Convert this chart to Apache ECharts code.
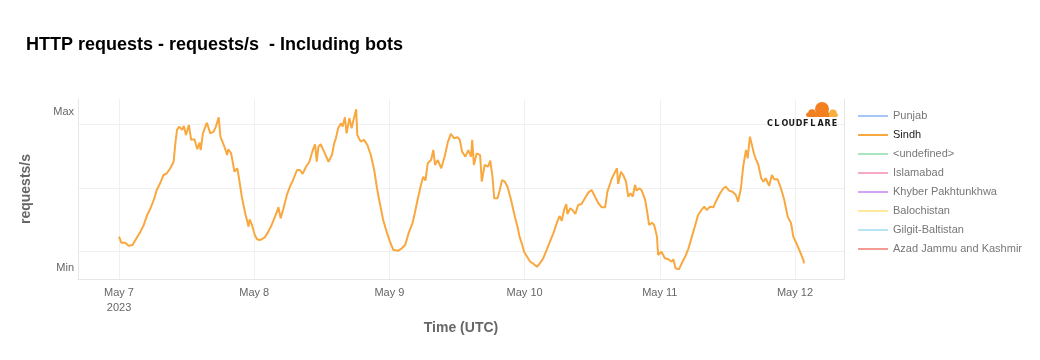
<!DOCTYPE html>
<html>
<head>
<meta charset="utf-8">
<script src="https://cdn.jsdelivr.net/npm/echarts@6/dist/echarts.min.js"></script>
<style>html,body{margin:0;padding:0;background:#fff}#c{width:1040px;height:360px}</style>
</head>
<body>
<div id="c"></div>
<script>
// Hours since 2023-05-07 00:00 UTC
const hours = [0.0,0.4,1.1,1.7,2.4,3.0,3.8,4.4,5.0,5.6,6.2,6.7,7.3,7.9,8.5,9.1,9.7,10.0,10.3,10.7,
11.2,11.5,11.9,12.4,12.8,13.4,13.9,14.3,14.5,14.9,15.6,16.2,16.8,17.2,17.7,18.0,18.6,19.2,19.4,19.9,
20.5,21.0,21.3,21.8,22.4,23.0,23.2,23.6,24.1,24.5,25.0,25.9,26.5,27.1,27.7,28.3,28.7,29.2,29.8,30.4,
30.9,31.6,32.1,32.6,33.2,33.8,34.4,34.8,35.1,35.4,35.8,36.4,37.2,37.8,38.2,38.5,38.9,39.4,39.7,40.1,
40.4,40.9,41.3,41.7,42.1,42.3,42.9,43.5,44.1,44.7,45.3,45.8,46.3,46.9,47.5,48.1,48.7,49.0,49.6,50.2,
50.8,51.4,52.1,52.5,53.0,53.6,54.0,54.4,54.8,55.4,55.8,56.1,56.6,57.2,57.8,58.4,58.9,59.5,60.1,60.5,
60.9,61.5,62.0,62.5,62.7,63.0,63.5,64.1,64.4,64.9,65.5,65.9,66.3,66.6,67.2,67.6,68.0,68.5,69.0,69.6,
70.2,70.8,71.1,71.5,71.9,72.5,73.0,73.6,74.2,74.7,75.3,75.9,76.5,77.1,77.7,78.2,78.6,79.0,79.4,79.6,
80.1,80.5,81.0,81.5,82.1,82.7,83.3,83.9,84.5,85.1,85.7,86.3,86.7,87.0,87.5,87.9,88.4,88.6,89.1,89.5,
90.0,90.4,90.8,91.2,91.6,91.9,92.4,92.8,93.4,93.8,94.1,94.6,95.0,95.5,95.7,96.3,96.9,97.5,98.1,98.4,
98.8,99.4,99.9,100.5,101.1,101.7,102.3,102.8,103.4,103.9,104.3,104.9,105.5,106.1,106.7,107.3,107.7,108.3,108.9,109.5,
109.9,110.4,110.8,111.3,111.6,112.0,112.3,112.7,113.0,113.5,114.0,114.4,114.8,115.4,115.9,116.3,116.9,117.5,118.1,118.7,
119.3,119.7,120.3,120.9,121.5,121.6];
// Sindh, relative requests/s (Min = 0, Max = 100)
const sindh = [20.1,16.2,16.2,14.3,14.7,18.4,23.3,27.6,34.0,38.3,44.0,50.0,54.3,59.6,60.7,63.9,68.1,79.9,88.5,90.6,
88.5,91.0,85.3,91.7,82.1,82.5,76.1,80.3,75.6,86.3,93.1,86.3,87.4,90.6,96.6,84.2,78.8,72.4,76.1,73.5,
61.7,63.9,57.5,45.7,35.1,26.5,31.2,27.6,21.2,18.4,17.9,19.7,23.3,27.6,32.9,38.9,31.9,38.3,46.8,52.6,
56.4,62.8,62.8,60.3,64.9,68.1,75.6,79.3,68.1,77.8,79.3,74.6,68.1,72.4,79.9,83.1,89.6,92.8,90.6,96.6,
86.3,96.0,89.6,96.0,101.7,85.3,81.0,82.1,78.8,72.4,62.8,51.1,41.5,30.8,23.3,16.9,11.5,12.6,11.1,12.6,
14.7,22.2,28.7,35.1,43.6,53.2,58.5,56.0,67.1,69.2,75.6,66.0,69.2,63.9,71.3,81.0,85.9,83.1,83.8,82.1,
74.6,71.3,75.6,71.3,82.1,66.0,73.5,72.4,55.3,66.0,64.9,68.8,58.5,44.7,44.7,50.0,56.4,55.3,51.7,43.6,
34.0,25.4,20.1,15.8,10.4,6.9,4.0,2.6,0.8,3.0,6.2,11.5,16.9,22.2,28.7,33.3,30.3,37.2,41.0,34.6,
38.3,37.2,34.6,40.4,41.0,44.7,48.3,50.0,45.7,41.5,38.9,38.9,48.9,47.9,57.5,60.3,63.9,53.8,61.7,59.6,
55.3,45.7,47.9,45.7,53.2,49.6,51.1,49.6,43.6,35.1,27.6,29.0,27.6,20.1,8.3,10.4,6.2,5.6,4.0,5.6,
-0.2,-0.8,3.0,7.2,12.6,20.1,27.6,34.0,37.2,39.3,37.2,39.3,38.9,43.6,47.9,51.1,52.1,49.6,48.9,46.8,
42.5,51.1,64.9,75.6,70.3,84.2,85.3,73.5,70.3,66.0,57.5,55.3,57.5,52.6,59.6,56.9,56.9,51.1,43.6,32.9,
28.7,20.1,15.4,10.4,5.1,3.0];

const regions = ['Punjab','Sindh','<undefined>','Islamabad','Khyber Pakhtunkhwa','Balochistan','Gilgit-Baltistan','Azad Jammu and Kashmir'];
const regionColors = ['#a6c6f6','#f9a83f','#a9e6bf','#f8a9c8','#d5a3f1','#fde99c','#b9e4f5','#f49b91'];
const xTickLabels = ['May 7\n2023','May 8','May 9','May 10','May 11','May 12'];
const xTickHours = [0,24,48,72,96,120];
const yTickLabels = {0:'Min',100:'Max'};

const chart = echarts.init(document.getElementById('c'));
const FF = 'Liberation Sans, Arial, sans-serif';

const series = regions.map((name,i) => ({
  name, type:'line', showSymbol:false, symbol:'none',
  color: regionColors[i],
  lineStyle:{width:2, color: regionColors[i]},
  data: name === 'Sindh' ? hours.map((h,k)=>[h, sindh[k]]) : [],
  z: 3
}));

const logoLetters = 'CLOUDFLARE'.split('');
const logoGraphics = [
  {type:'circle', z:100, shape:{cx:822, cy:109, r:7}, style:{fill:'#f38020'}},
  {type:'circle', z:100, shape:{cx:812, cy:113, r:3.8}, style:{fill:'#f38020'}},
  {type:'rect', z:100, shape:{x:806, y:112.5, width:26, height:4.5, r:[2.2,0,0,2.2]}, style:{fill:'#f38020'}},
  {type:'circle', z:100, shape:{cx:833, cy:113.2, r:3.8}, style:{fill:'#faae40'}},
  {type:'rect', z:100, shape:{x:829, y:113.2, width:9, height:3.8, r:[0,1.9,1.9,0]}, style:{fill:'#faae40'}}
].concat(logoLetters.map((ch,i)=>({
  type:'text', z:100, x: 767 + i*7.2, y: 119.5,
  style:{text:ch, fill:'#1a1a1a', font:'bold 8px "DejaVu Sans", sans-serif', textBaseline:'top'}
})));

chart.setOption({
  animation: false,
  title: {
    text: 'HTTP requests - requests/s  - Including bots',
    left: 26, top: 36, padding: 0,
    textStyle: {fontFamily: FF, fontSize: 18, fontWeight: 'bold', color: '#000'}
  },
  legend: {
    orient: 'vertical', left: 858, top: 109, padding: 0,
    itemWidth: 30, itemHeight: 2, itemGap: 5, icon: 'rect',
    selectedMode: false,
    textStyle: {fontFamily: FF, fontSize: 11, color: '#777', lineHeight: 14},
    data: regions.map(n => ({name: n, textStyle: n === 'Sindh' ? {color:'#222'} : {color:'#777'}}))
  },
  grid: {left: 78, right: 196, top: 99, bottom: 81, containLabel: false},
  xAxis: {
    type: 'value',
    min: -7.28, max: 128.7,
    name: 'Time (UTC)', nameLocation: 'middle', nameGap: 42,
    nameTextStyle: {fontFamily: FF, fontSize: 14, fontWeight: 'bold', color: '#666'},
    axisLine: {show: true, onZero: false, lineStyle: {color: '#e6e6e6', width: 1}},
    axisTick: {show: false, customValues: xTickHours},
    splitLine: {show: true, lineStyle: {color: '#f0f0f0', width: 1}},
    axisLabel: {
      customValues: xTickHours, margin: 6,
      fontFamily: FF, fontSize: 11, color: '#666', lineHeight: 15,
      formatter: v => xTickLabels[xTickHours.indexOf(Math.round(v))] || ''
    }
  },
  yAxis: [{
    type: 'value', min: -7.05, max: 108.3,
    name: 'requests/s', nameLocation: 'middle', nameGap: 45,
    nameTextStyle: {fontFamily: FF, fontSize: 14, fontWeight: 'bold', color: '#666'},
    axisLine: {show: true, onZero: false, lineStyle: {color: '#e6e6e6', width: 1}},
    axisTick: {show: false, customValues: [10.9, 51.3, 92.3]},
    splitLine: {show: true, lineStyle: {color: '#f0f0f0', width: 1}},
    axisLabel: {
      customValues: [0, 100], margin: 4,
      fontFamily: FF, fontSize: 11, color: '#666',
      formatter: v => yTickLabels[Math.round(v)] || ''
    }
  }, {
    type: 'value', position: 'right', min: -7.05, max: 108.3,
    axisLine: {show: true, onZero: false, lineStyle: {color: '#e6e6e6', width: 1}},
    axisTick: {show: false}, axisLabel: {show: false}, splitLine: {show: false}
  }],
  graphic: logoGraphics,
  series
});
</script>
</body>
</html>
